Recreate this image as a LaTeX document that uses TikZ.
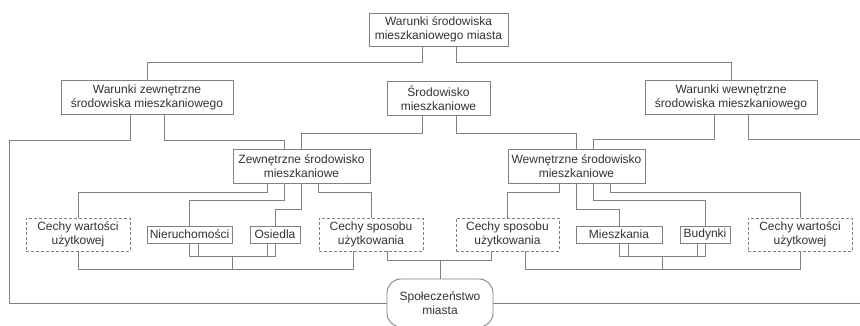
\documentclass[tikz,border=0pt]{standalone}
\usepackage{fontspec}
\setmainfont{Liberation Sans}
\usetikzlibrary{calc}

\begin{document}
\begin{tikzpicture}[x=1pt, y=-1pt,
  every node/.style={font=\fontsize{12}{14}\selectfont, text=black!80, align=center, inner sep=0pt},
  box/.style={draw=black!50, line width=0.9pt, fill=white, rectangle, minimum height=34pt},
  cecha/.style={box, dash pattern=on 3pt off 2pt, minimum width=104pt, minimum height=33pt},
  elem/.style={box, minimum height=17pt},
  link/.style={draw=black!50, line width=0.9pt}]
  \clip (0,0) rectangle (860,326);
  \fill[white] (0,0) rectangle (860,326);

  % poziom 1 i 2
  \node[box, minimum width=139pt, minimum height=33pt] (wsmm) at (438.5,29.5) {Warunki środowiska\\mieszkaniowego miasta};
  \node[box, minimum width=172pt] (wz) at (147,97) {Warunki zewnętrzne\\środowiska mieszkaniowego};
  \node[box, minimum width=103pt] (sm) at (438.5,98) {Środowisko\\mieszkaniowe};
  \node[box, minimum width=172pt] (ww) at (731,97) {Warunki wewnętrzne\\środowiska mieszkaniowego};

  % poziom 3
  \node[box, minimum width=137pt] (zsm) at (301.5,166) {Zewnętrzne środowisko\\mieszkaniowe};
  \node[box, minimum width=137pt] (wsm) at (576.5,166) {Wewnętrzne środowisko\\mieszkaniowe};

  % poziom 4
  \node[cecha] (cwl) at (78,234.5) {Cechy wartości\\użytkowej};
  \node[elem, minimum width=85pt] (nier) at (189.5,234.5) {Nieruchomości};
  \node[elem, minimum width=50pt] (osi) at (275,234.5) {Osiedla};
  \node[cecha] (csl) at (371,234.5) {Cechy sposobu\\użytkowania};
  \node[cecha, minimum width=103pt] (csr) at (507.5,234.5) {Cechy sposobu\\użytkowania};
  \node[elem, minimum width=86pt] (mie) at (619,234.5) {Mieszkania};
  \node[elem, minimum width=50pt] (bud) at (705,234.5) {Budynki};
  \node[cecha] (cwr) at (800,234.5) {Cechy wartości\\użytkowej};

  \node[box, rounded corners=14pt, minimum width=106pt, minimum height=48pt] (spol) at (440,303) {Społeczeństwo\\miasta};

  \coordinate (lrama) at (9,140);
  \coordinate (prama) at (863,139);

  % polaczenia
  \draw[link] ([xshift=-16.5pt]wsmm.south) -- ++(0,16) -| (wz.north);
  \draw[link] ([xshift=17.5pt]wsmm.south) -- ++(0,16) -| (ww.north);

  \draw[link] ([xshift=-17pt]wz.south) |- (lrama) |- (spol.west);
  \draw[link] ([xshift=17pt]wz.south) -- ++(0,26) -| ([xshift=-17pt]zsm.north);
  \draw[link] ([xshift=-16.5pt]sm.south) -- ++(0,18) -| (zsm.north);
  \draw[link] ([xshift=17.5pt]sm.south) -- ++(0,18) -| (wsm.north);
  \draw[link] ([xshift=-17pt]ww.south) -- ++(0,25) -| ([xshift=17pt]wsm.north);
  \draw[link] ([xshift=17pt]ww.south) |- (prama) |- (spol.east);

  \draw[link] ([xshift=-34pt]zsm.south) -- ++(0,9) -| (cwl.north);
  \draw[link] ([xshift=-17pt]zsm.south) -- ++(0,17) -| (nier.north);
  \draw[link] (zsm.south) -- ++(0,26) -| (osi.north);
  \draw[link] ([xshift=17pt]zsm.south) -- ++(0,9) -| (csl.north);

  \draw[link] ([xshift=-17pt]wsm.south) -- ++(0,9) -| (csr.north);
  \draw[link] (wsm.south) -- ++(0,26) -| (mie.north);
  \draw[link] ([xshift=17pt]wsm.south) -- ++(0,17) -| (bud.north);
  \draw[link] ([xshift=34pt]wsm.south) -- ++(0,9) -| (cwr.north);

  % dolne szyny
  \draw[link] (nier.south) -- ++(0,13) -| (osi.south);
  \draw[link] ([xshift=9pt]nier.south) -- ++(0,13);
  \draw[link] ([xshift=-8pt]osi.south) -- ++(0,13);
  \draw[link] ($(nier.south)!.5!(osi.south)$) ++(0,13) -- ++(0,13);
  \draw[link] (cwl.south) -- ++(0,18) -| ([xshift=-18pt]csl.south);

  \draw[link] (mie.south) -- ++(0,13) -| (bud.south);
  \draw[link] ([xshift=9pt]mie.south) -- ++(0,13);
  \draw[link] ([xshift=-8pt]bud.south) -- ++(0,13);
  \draw[link] ($(mie.south)!.5!(bud.south)$) ++(0,13) -- ++(0,13);
  \draw[link] ([xshift=17.5pt]csr.south) -- ++(0,18) -| (cwr.south);

  \draw[link] ([xshift=16pt]csl.south) -- ++(0,9) -| (spol.north);
  \draw[link] ([xshift=-16.5pt]csr.south) -- ++(0,9) -| (spol.north);
\end{tikzpicture}
\end{document}
